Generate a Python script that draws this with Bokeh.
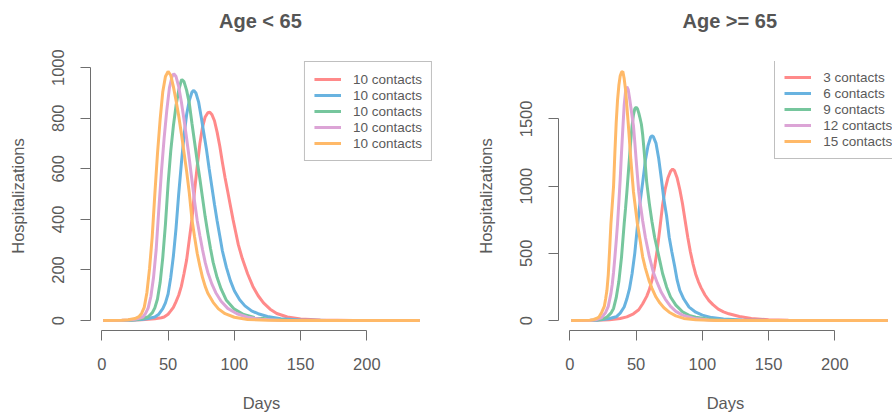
from bokeh.plotting import figure
from bokeh.models import Range1d, FixedTicker, Legend, LegendItem, Title
from bokeh.layouts import row
from bokeh.embed import file_html
from bokeh.resources import INLINE

# ---------------- data ----------------
x_ticks = [0, 50, 100, 150, 200]
y_ticks_under65 = [0, 200, 400, 600, 800, 1000]
y_ticks_over65 = [0, 500, 1000, 1500]

labels_under65 = ["10 contacts", "10 contacts", "10 contacts", "10 contacts", "10 contacts"]
labels_over65 = ["3 contacts", "6 contacts", "9 contacts", "12 contacts", "15 contacts"]
colors = ["#FF8A8A", "#68B3E0", "#76C69D", "#DCA4D6", "#FFB968"]

# Age < 65
u_red_days = [1, 20, 30, 40, 45, 47, 50, 52, 54, 56, 58, 60, 62, 64, 66, 68, 70, 72, 74, 76, 78, 80, 81.5, 83, 85, 87, 89, 91, 93, 95, 97, 99, 101, 103, 106, 110, 114, 118, 122, 127, 132, 140, 150, 165, 190, 240]
u_red_vals = [0, 1, 3, 7, 11, 14, 25, 38, 52, 75, 100, 135, 185, 240, 320, 400, 515, 610, 700, 765, 805, 822, 824, 815, 790, 745, 690, 625, 565, 510, 455, 400, 350, 300, 245, 185, 135, 98, 70, 45, 28, 14, 6, 2, 0, 0]
u_blue_days = [1, 20, 30, 35, 40, 43, 46, 48, 50, 52, 54, 56, 58, 60, 62, 64, 66, 68, 69.4, 71, 73, 75, 77, 79, 81, 83, 85, 87, 89, 91, 94, 97, 100, 104, 108, 113, 118, 125, 135, 150, 170, 240]
u_blue_vals = [0, 1, 4, 8, 14, 25, 47, 70, 105, 170, 255, 365, 500, 620, 730, 815, 870, 903, 910, 900, 865, 805, 740, 675, 600, 530, 460, 395, 335, 275, 210, 158, 118, 82, 58, 38, 27, 16, 7, 2, 0, 0]
u_green_days = [1, 15, 20, 25, 30, 33, 35, 38, 40, 42, 44, 46, 48, 50, 52, 54, 56, 58, 60, 60.4, 62, 64, 66, 68, 70, 72, 74, 76, 78, 80, 82, 84, 87, 90, 94, 100, 107, 115, 125, 140, 160, 240]
u_green_vals = [0, 0, 1, 3, 7, 11, 15, 30, 50, 85, 150, 250, 380, 540, 670, 770, 850, 910, 950, 953, 945, 910, 860, 780, 705, 630, 560, 485, 410, 345, 285, 230, 170, 125, 80, 45, 24, 12, 6, 1, 0, 0]
u_pink_days = [1, 15, 20, 25, 28, 31, 33, 35, 37, 39, 41, 43, 45, 47, 49, 51, 53, 54.3, 56, 58, 60, 62, 64, 66, 68, 70, 72, 74, 76, 78, 80, 83, 86, 90, 95, 102, 110, 120, 135, 150, 240]
u_pink_vals = [0, 1, 2, 5, 9, 14, 28, 50, 95, 170, 280, 440, 590, 720, 830, 920, 965, 976, 965, 925, 865, 795, 720, 640, 555, 470, 395, 335, 280, 230, 190, 145, 110, 76, 48, 27, 13, 5, 1, 0, 0]
u_orange_days = [1, 15, 20, 25, 28, 30, 32, 34, 36, 38, 40, 42, 44, 46, 48, 50, 52, 54, 56, 58, 60, 62, 64, 66, 68, 70, 72, 74, 76, 78, 80, 84, 88, 93, 100, 110, 125, 140, 240]
u_orange_vals = [0, 1, 3, 8, 15, 28, 52, 110, 205, 330, 500, 660, 795, 905, 965, 985, 970, 925, 870, 810, 740, 665, 590, 505, 400, 330, 265, 215, 170, 135, 108, 72, 46, 27, 13, 4, 1, 0, 0]

# Age >= 65
o_red_days = [1, 20, 30, 38, 43, 48, 52, 55, 58, 60, 62, 64, 66, 68, 70, 72, 74, 76, 77.6, 79, 81, 83, 85, 87, 89, 91, 93, 95, 97, 99, 102, 105, 108, 112, 116, 120, 128, 137, 150, 165, 190, 240]
o_red_vals = [0, 2, 6, 15, 27, 50, 80, 125, 180, 230, 300, 400, 530, 690, 860, 980, 1060, 1110, 1127, 1115, 1060, 975, 870, 745, 620, 510, 420, 345, 290, 245, 190, 148, 118, 85, 65, 50, 30, 15, 6, 2, 0, 0]
o_blue_days = [1, 15, 20, 25, 30, 35, 38, 41, 43, 45, 47, 49, 51, 53, 55, 57, 59, 61, 62, 63, 65, 67, 69, 71, 73, 75, 77, 79, 81, 83, 86, 90, 95, 100, 107, 116, 130, 150, 170, 240]
o_blue_vals = [0, 1, 3, 8, 15, 28, 55, 101, 160, 235, 350, 500, 700, 880, 1030, 1190, 1300, 1365, 1375, 1368, 1320, 1210, 1060, 900, 780, 620, 510, 410, 300, 225, 160, 100, 62, 40, 22, 12, 4, 1, 0, 0]
o_green_days = [1, 15, 20, 25, 28, 31, 33, 35, 37, 39, 41, 42, 43, 44, 45, 46, 47, 48, 49, 50, 51, 52, 53, 54, 55, 56, 57, 58, 59, 60, 62, 64, 66, 68, 70, 73, 76, 80, 85, 90, 95, 104, 115, 130, 150, 240]
o_green_vals = [0, 1, 4, 12, 25, 55, 90, 170, 290, 472, 720, 830, 950, 1080, 1210, 1340, 1450, 1530, 1575, 1586, 1575, 1545, 1505, 1460, 1380, 1270, 1150, 1030, 950, 870, 735, 620, 530, 440, 350, 250, 175, 115, 65, 38, 24, 12, 4, 1, 0, 0]
o_pink_days = [1, 15, 20, 24, 27, 29, 31, 32, 33, 34, 35, 36, 37, 38, 39, 40, 41, 42, 43, 44, 45, 46, 47, 48, 49, 50, 51, 52, 53, 55, 57, 60, 63, 66, 69, 72, 76, 80, 85, 94, 105, 120, 140, 240]
o_pink_vals = [0, 1, 6, 22, 60, 105, 200, 270, 360, 472, 590, 720, 880, 1050, 1250, 1430, 1600, 1700, 1739, 1720, 1660, 1590, 1520, 1450, 1330, 1200, 1080, 960, 880, 740, 620, 475, 360, 280, 210, 160, 105, 68, 40, 15, 4, 1, 0, 0]
o_orange_days = [1, 15, 18, 20, 22, 24, 26, 27, 28, 29, 30, 31, 32, 33, 34, 35, 36, 37, 38, 39, 40, 41, 42, 43, 44, 45, 46, 47, 48, 49, 50, 51, 53, 55, 57, 60, 62, 65, 68, 71, 75, 80, 86, 95, 110, 130, 240]
o_orange_vals = [0, 2, 8, 15, 27, 60, 105, 160, 225, 340, 520, 720, 860, 1000, 1250, 1474, 1640, 1750, 1820, 1848, 1853, 1800, 1722, 1600, 1474, 1340, 1200, 1080, 960, 880, 800, 720, 600, 472, 390, 290, 240, 175, 130, 95, 62, 35, 16, 6, 1, 0, 0]

under65_days = [u_red_days, u_blue_days, u_green_days, u_pink_days, u_orange_days]
under65_vals = [u_red_vals, u_blue_vals, u_green_vals, u_pink_vals, u_orange_vals]
over65_days = [o_red_days, o_blue_days, o_green_days, o_pink_days, o_orange_days]
over65_vals = [o_red_vals, o_blue_vals, o_green_vals, o_pink_vals, o_orange_vals]

# ---------------- styling ----------------
FONT = "Liberation Sans"
TEXT = "#5a5a5a"
AXIS = "#6e6e6e"
H = 416
TOP = 61
BOTTOM = 86
FRAME_H = H - TOP - BOTTOM
DAY0, DAY1 = 1, 240
PX_PER_DAY = 342 / ((DAY1 - DAY0) * 1.08)


def make_panel(title, days_list, vals_list, labels, y_ticks, width, border_left, border_right,
               title_left, overflow_legend):
    ymax = max(max(v) for v in vals_list)
    ypad = 0.04 * ymax
    xpad = 0.04 * (DAY1 - DAY0)
    frame_w = width - border_left - border_right
    x_start = DAY0 - xpad
    x_end = x_start + frame_w / PX_PER_DAY
    p = figure(width=width, height=H, output_backend="svg", toolbar_location=None, title=None,
               x_range=Range1d(x_start, x_end), y_range=Range1d(-ypad, ymax + ypad),
               min_border_left=border_left, min_border_right=border_right,
               min_border_top=TOP, min_border_bottom=BOTTOM)
    p.outline_line_color = None
    p.grid.visible = False
    p.background_fill_color = "white"
    p.border_fill_color = "white"

    # spacer keeps the title well above the frame, as in the reference
    p.add_layout(Title(text=" ", text_font_size="21px", standoff=0), "above")
    p.add_layout(Title(text=title, align="left", offset=title_left, text_font=FONT,
                       text_font_size="20px", text_font_style="bold", text_color="#555555"),
                 "above")

    for ax, ticks, lab in ((p.xaxis[0], x_ticks, "Days"), (p.yaxis[0], y_ticks, "Hospitalizations")):
        ax.ticker = FixedTicker(ticks=ticks)
        ax.bounds = (ticks[0], ticks[-1])
        ax.axis_label = lab
        ax.axis_label_text_font = FONT
        ax.axis_label_text_font_size = "16.5px"
        ax.axis_label_text_font_style = "normal"
        ax.axis_label_text_color = TEXT
        ax.major_label_text_font = FONT
        ax.major_label_text_font_size = "16.5px"
        ax.major_label_text_color = TEXT
        ax.axis_line_color = AXIS
        ax.major_tick_line_color = AXIS
        ax.major_tick_out = 10
        ax.major_tick_in = 0
        ax.minor_tick_line_color = None
    p.xaxis[0].major_label_standoff = 17
    p.xaxis[0].axis_label_standoff = 21
    p.yaxis[0].major_label_standoff = 16
    p.yaxis[0].major_label_orientation = "vertical"
    p.yaxis[0].axis_label_standoff = 23

    items = []
    for d, v, c, lab in zip(days_list, vals_list, colors, labels):
        r = p.line(d, v, line_color=c, line_width=3)
        items.append(LegendItem(label=lab, renderers=[r]))

    legend = Legend(items=items, margin=0, padding=9, spacing=0,
                    glyph_width=27, glyph_height=16, label_height=16, label_standoff=12,
                    label_text_font=FONT, label_text_font_size="13.5px", label_text_color=TEXT,
                    border_line_color="#808080", border_line_width=1,
                    background_fill_color="white", background_fill_alpha=1.0)
    if overflow_legend:
        legend.location = (216.3, FRAME_H - 98)
    else:
        legend.location = "top_right"
    p.add_layout(legend)
    return p


p1 = make_panel("Age < 65", under65_days, under65_vals, labels_under65, y_ticks_under65,
                width=446, border_left=90, border_right=14, title_left=128.5, overflow_legend=False)
p2 = make_panel("Age >= 65", over65_days, over65_vals, labels_over65, y_ticks_over65,
                width=446, border_left=112, border_right=0, title_left=124, overflow_legend=True)

layout = row(p1, p2)
open("out.html", "w").write(file_html(layout, INLINE))
